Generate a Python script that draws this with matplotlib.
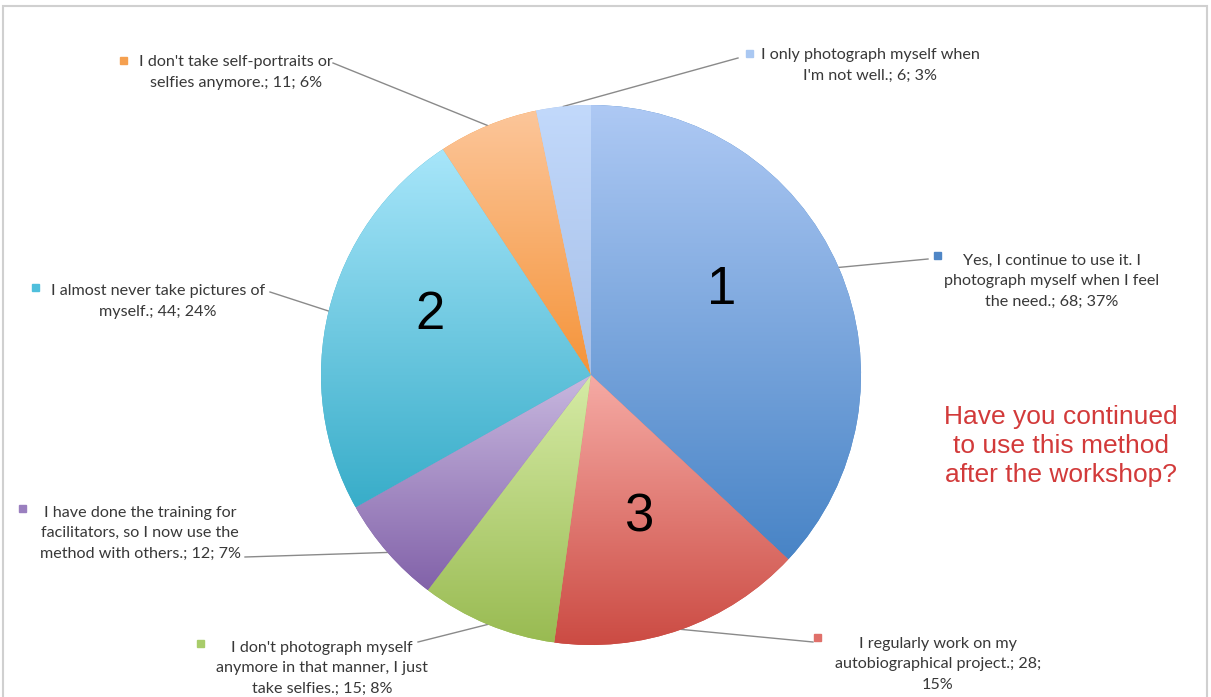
import numpy as np
import matplotlib.pyplot as plt
from matplotlib.colors import LinearSegmentedColormap
from matplotlib.patches import Rectangle

# data, in pie order (clockwise from 12 o'clock)
answers = [
    "Yes, I continue to use it. I\nphotograph myself when I feel\nthe need.",
    "I regularly work on my\nautobiographical project.",
    "I don't photograph myself\nanymore in that manner, I just\ntake selfies.",
    "I have done the training for\nfacilitators, so I now use the\nmethod with others.",
    "I almost never take pictures of\nmyself.",
    "I don't take self-portraits or\nselfies anymore.",
    "I only photograph myself when\nI'm not well.",
]
counts = [68, 28, 15, 12, 44, 11, 6]
ranks = ["1", "3", None, None, "2", None, None]
question = "Have you continued\nto use this method\nafter the workshop?"

# light (top) / dark (bottom) of each slice's gradient
tops = ["#aec9f4", "#f6aba5", "#d6eba6", "#c8b8df", "#a8e6fa", "#fcc69a", "#c2d9fb"]
bottoms = ["#4884c6", "#cb4a42", "#99bb52", "#8262a9", "#38adc9", "#f5943a", "#a6bfe8"]
marks = ["#4f86c6", "#e0706a", "#a8cc6a", "#9a7fbf", "#4fbfdc", "#f5a050", "#aac8f2"]

W, H = 1211, 697
def Y(y):
    return H - y

# layout: text center (x, first-line y), marker (x, y), leader-line end (x, y), break before pct
layout = [
    ((1052, 260), (937, 255), (928, 259), " "),
    ((938, 643), (817, 637), (813, 642), "\n"),
    ((322, 647), (200, 643), (418, 642), " "),
    ((140, 512), (22, 508), (245, 557), " "),
    ((158, 291), (35, 287), (270, 292), " "),
    ((236, 62), (123, 60), (333, 63), " "),
    ((870, 55), (749, 53), (738, 58), " "),
]
rank_pos = [(722, 290), (639, 518), None, None, (430, 315), None, None]

cx, cy, R = 591, Y(375), 270
LINE = 21.3

fig = plt.figure(figsize=(W / 100, H / 100), dpi=100)
ax = fig.add_axes([0, 0, 1, 1])

wedges, _ = ax.pie(counts, startangle=90, counterclock=False,
                   center=(cx, cy), radius=R, colors=bottoms,
                   wedgeprops=dict(linewidth=0))
ax.set_xlim(0, W)
ax.set_ylim(0, H)
ax.set_aspect("auto")
ax.axis("off")

total = sum(counts)
grad = np.linspace(0, 1, 256).reshape(-1, 1)
for i, w in enumerate(wedges):
    verts = w.get_patch_transform().transform(w.get_path().vertices)
    x0, x1 = verts[:, 0].min(), verts[:, 0].max()
    y0, y1 = verts[:, 1].min(), verts[:, 1].max()
    cmap = LinearSegmentedColormap.from_list("g%d" % i, [bottoms[i], tops[i]])
    im = ax.imshow(grad, cmap=cmap, extent=(x0, x1, y0, y1), origin="lower",
                   aspect="auto", zorder=2, interpolation="bilinear")
    im.set_clip_path(w)

    pct = round(counts[i] / total * 100)
    (tx, ty), (mx, my), (lx, ly), sep = layout[i]
    mid = np.deg2rad((w.theta1 + w.theta2) / 2)
    ex, ey = cx + R * np.cos(mid), cy + R * np.sin(mid)
    ax.plot([ex, lx], [ey, Y(ly)], color="#8a8a8a", lw=1, zorder=1)
    label = f"{answers[i]}; {counts[i]};{sep}{pct}%"
    n = label.count("\n")
    ax.text(tx, Y(ty) - n * LINE / 2, label, ha="center",
            va="center", multialignment="center", fontsize=11.6, family="Lato",
            color="#383838", linespacing=1.6, zorder=4)
    ax.add_patch(Rectangle((mx - 3.5, Y(my) - 3.5), 7, 7, color=marks[i], zorder=4))
    if ranks[i]:
        rx, ry = rank_pos[i]
        ax.text(rx, Y(ry), ranks[i], ha="center", va="center", fontsize=38,
                family="Liberation Sans", color="black", zorder=4)

ax.text(1061, Y(446), question, ha="center", va="center", fontsize=19,
        family="Liberation Sans", color="#d23a3a", linespacing=1.25, zorder=4)

# frame
fig.patches.append(Rectangle((3 / W, -0.01), (1207 - 3) / W, (H - 6) / H + 0.01,
                             transform=fig.transFigure, fill=False,
                             edgecolor="#d0d0d0", lw=1.5))

fig.savefig("out.png", dpi=100)
